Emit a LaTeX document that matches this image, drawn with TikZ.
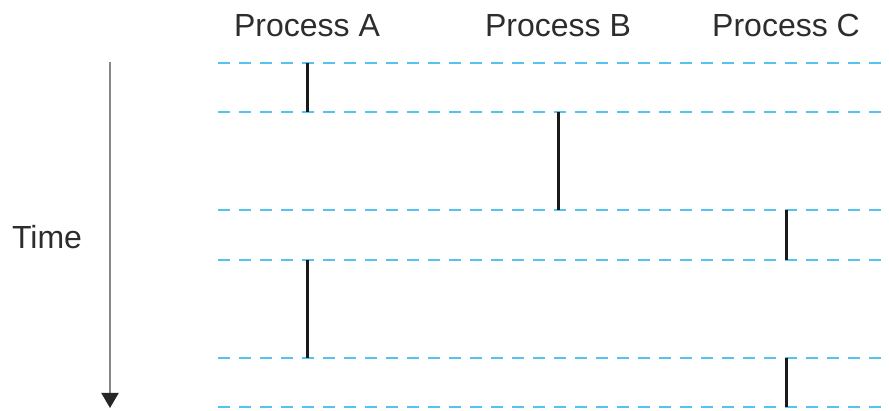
\documentclass[tikz,border=0pt]{standalone}
\usepackage{fontspec}
\setmainfont{Liberation Sans}
\usetikzlibrary{arrows.meta}
\definecolor{slotblue}{RGB}{85,195,240}
\definecolor{labelgray}{RGB}{45,45,45}
\definecolor{axisgray}{RGB}{135,135,135}
\tikzset{
  slotline/.style={slotblue, line width=2.5pt, dash pattern=on 12pt off 9pt},
  runbar/.style={black!90, line width=3pt},
  proclabel/.style={text=labelgray, font=\fontsize{32}{38}\selectfont, anchor=base, inner sep=0pt},
}
\begin{document}
\begin{tikzpicture}[x=1pt, y=-1pt, line cap=butt]
  \useasboundingbox (0,0) rectangle (889,411);

  % Process headings
  \node[proclabel] (pA) at (307,37) {Process A};
  \node[proclabel] (pB) at (558,37) {Process B};
  \node[proclabel] (pC) at (786,37) {Process C};

  % Time axis
  \coordinate (timeTop) at (110,62);
  \coordinate (timeBot) at (110,408);
  \draw[axisgray, line width=2pt, -{Triangle[length=15pt, width=17pt, color=black!85]}] (timeTop) -- (timeBot);
  \node[proclabel] (time) at (47,249) {Time};

  % Time slot boundaries (dashed)
  \foreach \ty [count=\i] in {63,112,210,260,358,407} {
    \coordinate (tL\i) at (218,\ty);
    \coordinate (tR\i) at (889,\ty);
    \draw[slotline] (tL\i) -- (tR\i);
  }

  % Running slices of each process
  \draw[runbar] (tL1 -| pA) -- (tL2 -| pA);
  \draw[runbar] (tL2 -| pB) -- (tL3 -| pB);
  \draw[runbar] (tL3 -| pC) -- (tL4 -| pC);
  \draw[runbar] (tL4 -| pA) -- (tL5 -| pA);
  \draw[runbar] (tL5 -| pC) -- (tL6 -| pC);

\end{tikzpicture}
\end{document}
